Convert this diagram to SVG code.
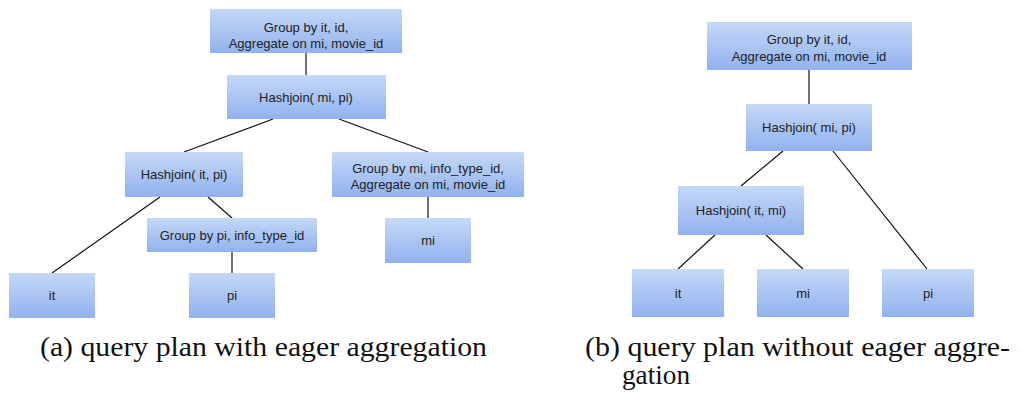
<svg xmlns="http://www.w3.org/2000/svg" width="1022" height="394" viewBox="0 0 1022 394">
<defs>
<linearGradient id="g" x1="0" y1="0" x2="0" y2="1">
<stop offset="0" stop-color="#c5d8f7"/>
<stop offset="1" stop-color="#90b2ee"/>
</linearGradient>
<style>
.b{fill:url(#g);stroke:none}
.t{font-family:"Liberation Sans",Arial,sans-serif;font-size:13px;fill:#222;text-anchor:middle}
.e{stroke:#111;stroke-width:1.2;fill:none}
.c{font-family:"Liberation Serif","Times New Roman",serif;font-size:27px;fill:#111}
</style>
</defs>
<rect width="1022" height="394" fill="#fff"/>
<g id="connectors">
<line class="e" x1="306" y1="53" x2="306" y2="75"/>
<line class="e" x1="273" y1="119" x2="184" y2="152"/>
<line class="e" x1="339" y1="119" x2="428" y2="152"/>
<line class="e" x1="160" y1="197" x2="52" y2="273"/>
<line class="e" x1="208" y1="197" x2="232" y2="218"/>
<line class="e" x1="232" y1="252" x2="232" y2="273"/>
<line class="e" x1="428" y1="197" x2="428" y2="218"/>
<line class="e" x1="809" y1="70" x2="809" y2="104"/>
<line class="e" x1="783" y1="151" x2="741" y2="186"/>
<line class="e" x1="833" y1="151" x2="927" y2="269"/>
<line class="e" x1="715" y1="235" x2="678" y2="269"/>
<line class="e" x1="766" y1="235" x2="803" y2="269"/>
</g>
<g id="a_top"><rect class="b" x="210" y="9" width="192" height="44"/><text class="t" x="306" y="32">Group by it, id,</text><text class="t" x="306" y="48">Aggregate on mi, movie_id</text></g>
<g id="a_hj_mi_pi"><rect class="b" x="227" y="75" width="159" height="44"/><text class="t" x="306" y="102">Hashjoin( mi, pi)</text></g>
<g id="a_hj_it_pi"><rect class="b" x="125" y="152" width="118" height="45"/><text class="t" x="184" y="179">Hashjoin( it, pi)</text></g>
<g id="a_gb_mi"><rect class="b" x="332" y="152" width="192" height="45"/><text class="t" x="428" y="173">Group by mi, info_type_id,</text><text class="t" x="428" y="189">Aggregate on mi, movie_id</text></g>
<g id="a_gb_pi"><rect class="b" x="147" y="218" width="170" height="34"/><text class="t" x="232" y="240">Group by pi, info_type_id</text></g>
<g id="a_mi"><rect class="b" x="385" y="218" width="86" height="45"/><text class="t" x="428" y="245">mi</text></g>
<g id="a_it"><rect class="b" x="9" y="273" width="86" height="45"/><text class="t" x="52" y="300">it</text></g>
<g id="a_pi"><rect class="b" x="189" y="273" width="86" height="45"/><text class="t" x="232" y="300">pi</text></g>
<g id="b_top"><rect class="b" x="707" y="22" width="205" height="48"/><text class="t" x="809" y="44">Group by it, id,</text><text class="t" x="809" y="61">Aggregate on mi, movie_id</text></g>
<g id="b_hj_mi_pi"><rect class="b" x="746" y="104" width="126" height="47"/><text class="t" x="809" y="132">Hashjoin( mi, pi)</text></g>
<g id="b_hj_it_mi"><rect class="b" x="678" y="186" width="126" height="49"/><text class="t" x="741" y="215">Hashjoin( it, mi)</text></g>
<g id="b_it"><rect class="b" x="632" y="269" width="92" height="48"/><text class="t" x="678" y="298">it</text></g>
<g id="b_mi"><rect class="b" x="757" y="269" width="92" height="48"/><text class="t" x="803" y="298">mi</text></g>
<g id="b_pi"><rect class="b" x="882" y="269" width="92" height="48"/><text class="t" x="928" y="298">pi</text></g>
<text class="c" x="40" y="356" textLength="447" lengthAdjust="spacingAndGlyphs">(a) query plan with eager aggregation</text>
<text class="c" x="585" y="356" textLength="425" lengthAdjust="spacingAndGlyphs">(b) query plan without eager aggre-</text>
<text class="c" x="622" y="384" textLength="68" lengthAdjust="spacingAndGlyphs">gation</text>
</svg>
